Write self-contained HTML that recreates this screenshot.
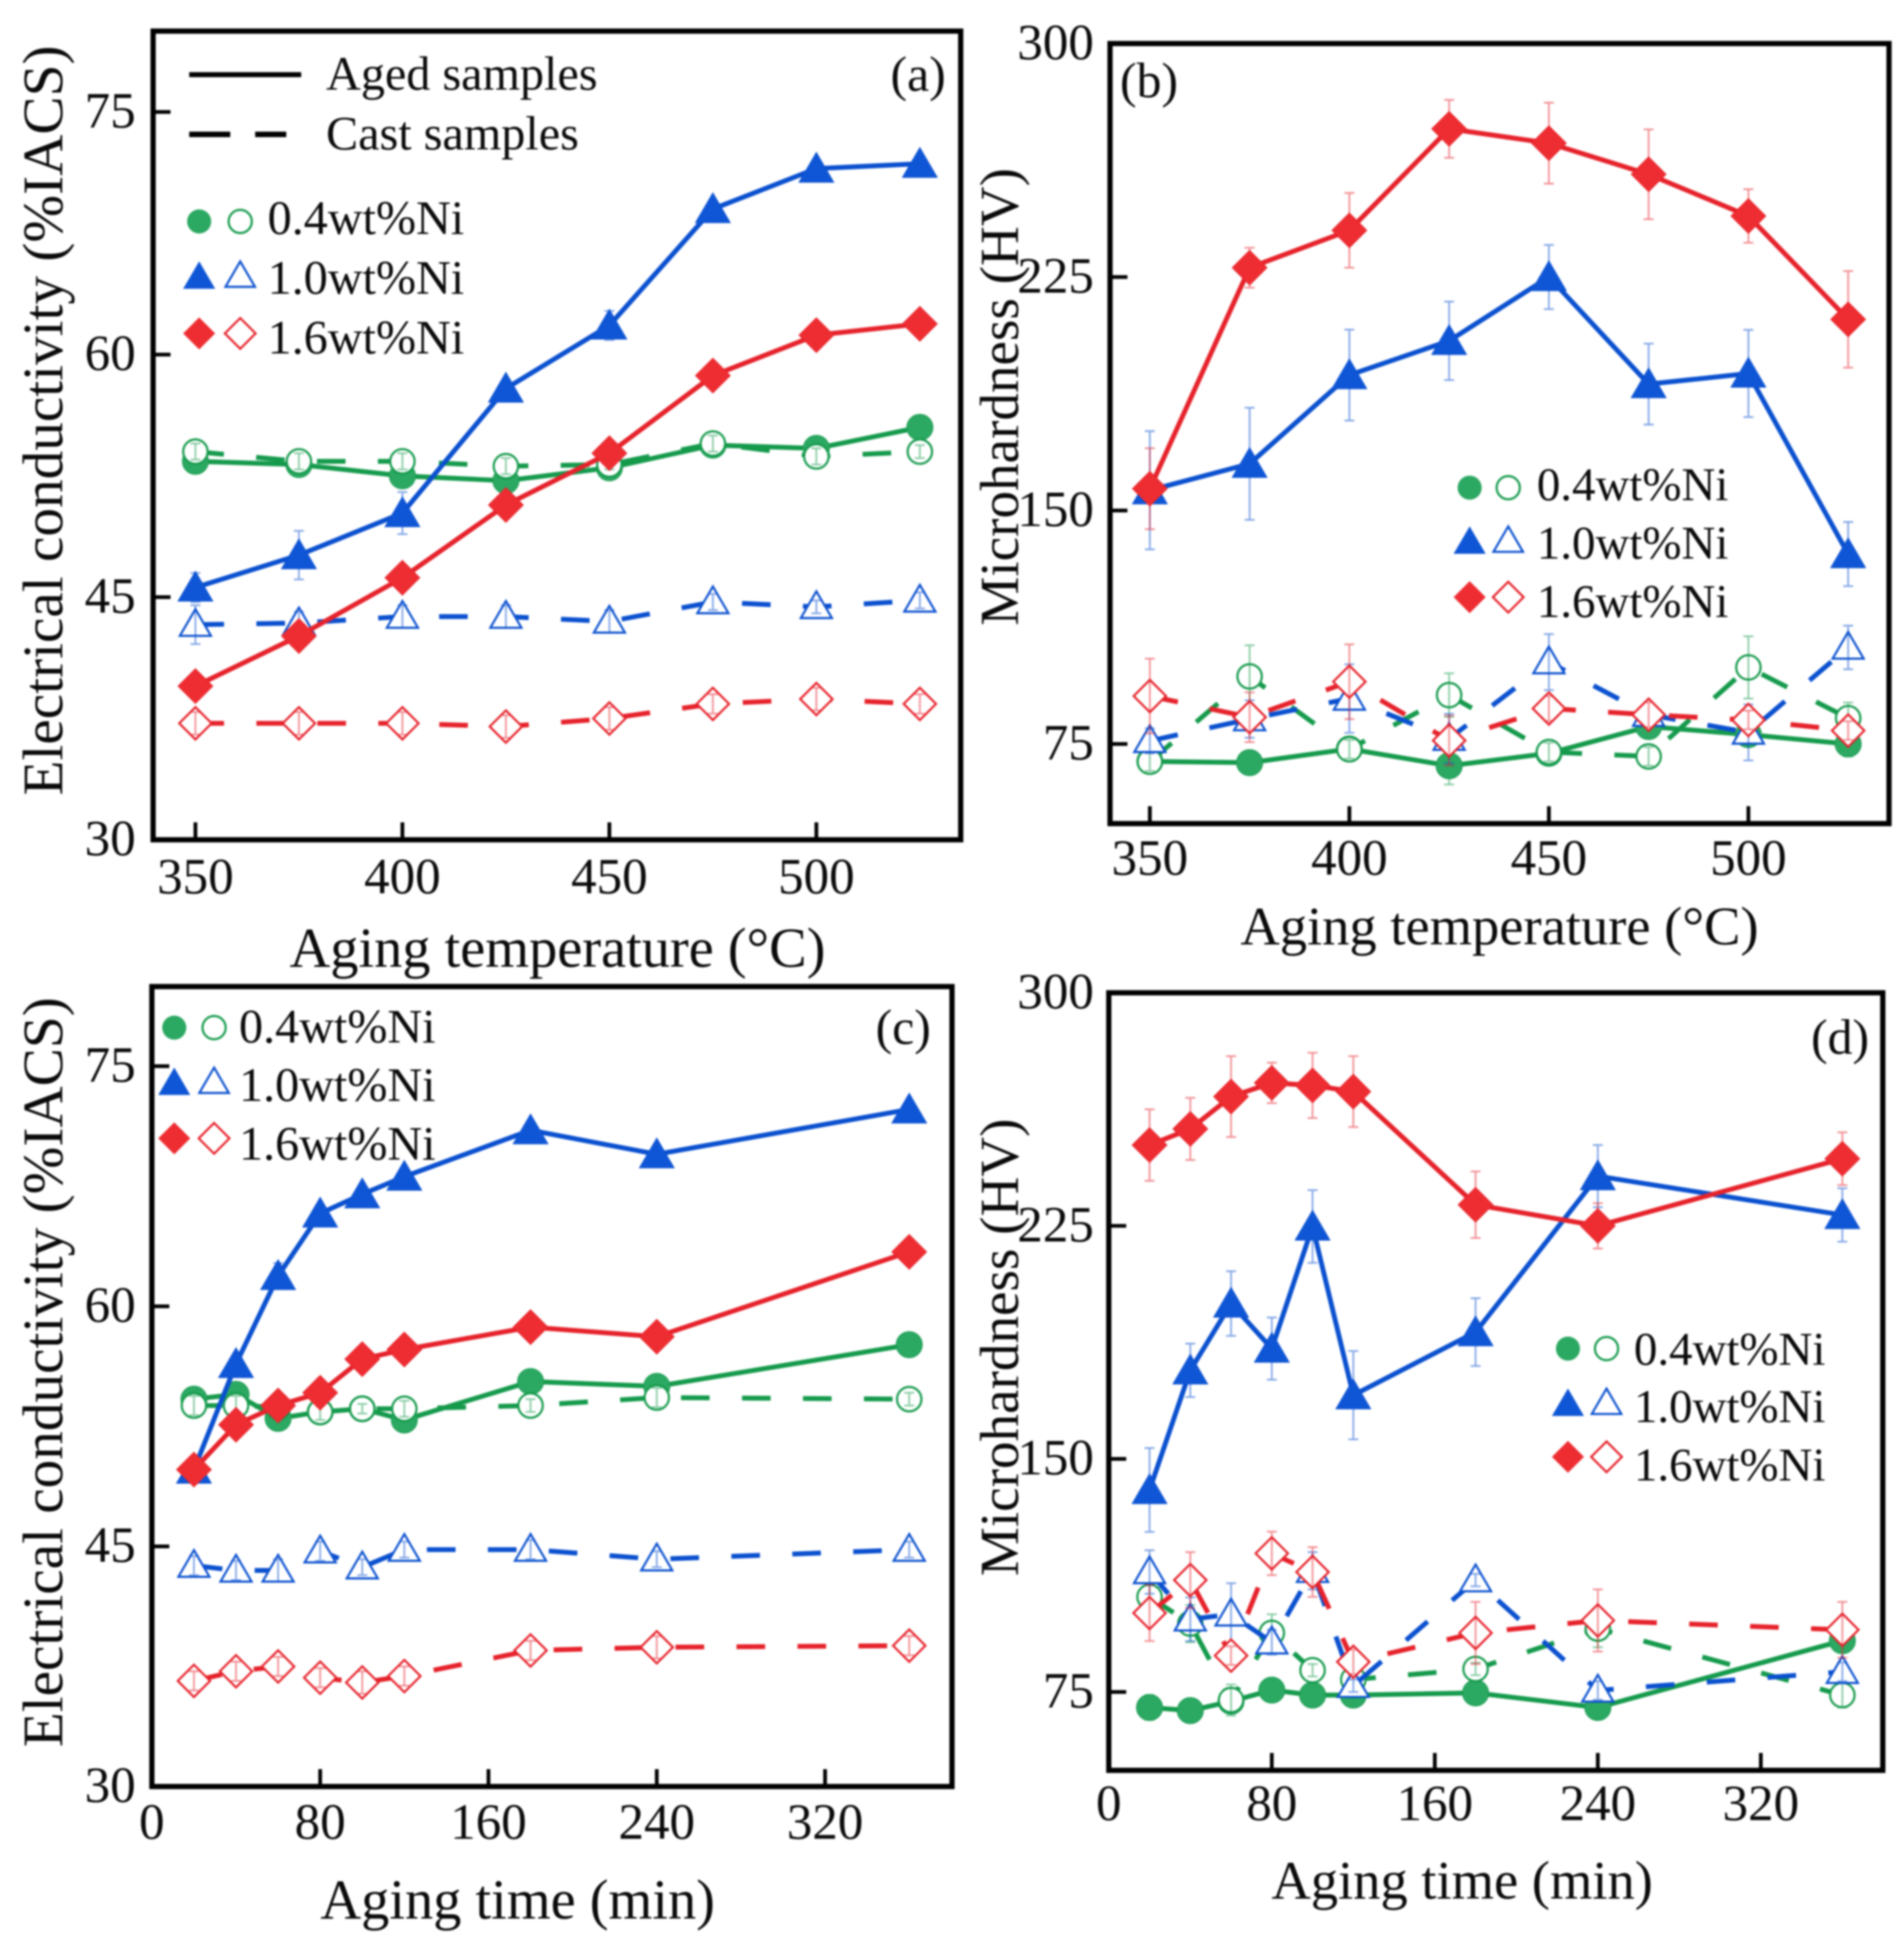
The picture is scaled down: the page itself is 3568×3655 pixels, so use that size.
<!DOCTYPE html>
<html lang="en">
<head>
<meta charset="utf-8">
<title>Conductivity and microhardness vs aging temperature and time</title>
<style>
html,body{margin:0;padding:0;background:#fff;}
svg{display:block;width:3568px;height:3655px;filter:blur(1.9px);}
text{font-family:"Liberation Serif",serif;fill:#0a0a0a;}
.tick{font-size:41px;}
.title{font-size:45.3px;}
.title-right{font-size:43.8px;}
.legend{font-size:38.7px;}
.legend-right{font-size:37.7px;}
.panel-label{font-size:40px;}
</style>
</head>
<body>
<svg id="chart" xmlns="http://www.w3.org/2000/svg" viewBox="0 0 1530 1567.4">
  <rect x="0" y="0" width="1530" height="1567.4" fill="#fff"/>

  <g id="panel-a">
    <text class="title" x="448" y="777" text-anchor="middle">Aging temperature (°C)</text>
    <text class="title" transform="translate(50,338) rotate(-90)" text-anchor="middle" style="font-size:46px">Electrical conductivity (%IACS)</text>
    <text class="panel-label" x="760" y="73" text-anchor="end">(a)</text>
    <line x1="152" y1="60" x2="242" y2="60" stroke="#000" stroke-width="4"/>
    <line x1="152" y1="108" x2="230" y2="108" stroke="#000" stroke-width="4.4" stroke-dasharray="33 20 25 99"/>
    <text class="legend" x="262" y="72">Aged samples</text>
    <text class="legend" x="262" y="120">Cast samples</text>
    <text class="legend" x="215" y="188">0.4wt%Ni</text>
    <text class="legend" x="215" y="236">1.0wt%Ni</text>
    <text class="legend" x="215" y="284">1.6wt%Ni</text>
  </g>

  <g id="panel-b">
    <text class="title-right" x="1205" y="759" text-anchor="middle">Aging temperature (°C)</text>
    <text class="title" transform="translate(818,319) rotate(-90)" text-anchor="middle" style="font-size:44.3px">Microhardness (HV)</text>
    <text class="panel-label" x="900" y="78">(b)</text>
    <text class="legend-right" x="1235" y="402">0.4wt%Ni</text>
    <text class="legend-right" x="1235" y="449">1.0wt%Ni</text>
    <text class="legend-right" x="1235" y="496">1.6wt%Ni</text>
  </g>

  <g id="panel-c">
    <text class="title" x="416" y="1542" text-anchor="middle">Aging time (min)</text>
    <text class="title" transform="translate(50,1103) rotate(-90)" text-anchor="middle" style="font-size:46px">Electrical conductivity (%IACS)</text>
    <text class="panel-label" x="748" y="839" text-anchor="end">(c)</text>
    <text class="legend" x="192" y="838">0.4wt%Ni</text>
    <text class="legend" x="192" y="885">1.0wt%Ni</text>
    <text class="legend" x="192" y="932">1.6wt%Ni</text>
  </g>

  <g id="panel-d">
    <text class="title-right" x="1175" y="1526" text-anchor="middle">Aging time (min)</text>
    <text class="title" transform="translate(818,1083) rotate(-90)" text-anchor="middle" style="font-size:44.3px">Microhardness (HV)</text>
    <text class="panel-label" x="1502" y="847" text-anchor="end">(d)</text>
    <text class="legend-right" x="1313" y="1097">0.4wt%Ni</text>
    <text class="legend-right" x="1313" y="1143">1.0wt%Ni</text>
    <text class="legend-right" x="1313" y="1190">1.6wt%Ni</text>
  </g>
</svg>

<script>
// Categories
const temperatures = [350, 375, 400, 425, 450, 475, 500, 525];
const times = [20, 40, 60, 80, 100, 120, 180, 240, 360];

// Tick labels
const temperatureTicks = [350, 400, 450, 500];
const timeTicks = [0, 80, 160, 240, 320];
const conductivityTicks = [30, 45, 60, 75];
const hardnessTicks = [75, 150, 225, 300];

// Panel (a) conductivity vs temperature
const aAged04 = [53.4, 53.2, 52.5, 52.2, 53.0, 54.4, 54.2, 55.5];
const aCast04 = [54.0, 53.4, 53.4, 53.1, 53.2, 54.5, 53.7, 54.0];
const aAged10 = [45.6, 47.6, 50.2, 57.9, 61.8, 69.0, 71.5, 71.8];
const aCast10 = [43.3, 43.4, 43.8, 43.8, 43.5, 44.7, 44.4, 44.8];
const aAged16 = [39.5, 42.6, 46.2, 50.7, 53.9, 58.7, 61.2, 61.9];
const aCast16 = [37.2, 37.2, 37.2, 37.0, 37.5, 38.4, 38.7, 38.4];
const aAged04Err = [0.4, 0.4, 0.4, 0.3, 0.3, 0.3, 0.3, 0.3];
const aCast04Err = [0.5, 0.5, 0.5, 0.5, 0.3, 0.5, 0.5, 0.4];
const aAged10Err = [0.9, 1.5, 1.3, 0.5, 0.9, 0.3, 0.3, 0.3];
const aCast10Err = [1.2, 0.7, 0.7, 0.7, 0.7, 0.5, 0.4, 0.5];
const aAged16Err = [0.3, 0.3, 0.4, 0.6, 0.3, 0.3, 0.3, 0.3];
const aCast16Err = [0.7, 0.7, 0.7, 0.7, 0.7, 0.6, 0.7, 0.6];

// Panel (b) hardness vs temperature
const bAged04 = [69.4, 69, 73.4, 68, 72, 80.6, 78, 75];
const bCast04 = [69.3, 96.7, 73.3, 90.7, 72.4, 71, 99.6, 83.3];
const bAged10 = [156.5, 165, 193.5, 204.5, 225, 190.6, 194, 136];
const bCast10 = [76, 83, 89.6, 76.7, 101.3, 84.4, 78.7, 106];
const bAged16 = [157, 228, 240, 272.6, 268, 258, 244.6, 211.4];
const bCast16 = [90.4, 83.6, 95, 76.1, 86.4, 84.4, 82.7, 79.3];
const bAged04Err = [3, 2, 3, 6, 3, 3, 3, 4];
const bCast04Err = [3, 10, 3, 7, 3, 3, 10, 5];
const bAged10Err = [19, 18, 14.6, 12.6, 10.3, 13, 14, 10.3];
const bCast10Err = [4, 6, 11, 8, 9, 3, 9, 7];
const bAged16Err = [13, 6.4, 12, 9.3, 13, 14.4, 8.6, 15.5];
const bCast16Err = [12, 8, 12, 8, 4, 4, 3, 3];

// Panel (c) conductivity vs time
const cAged04 = [54.2, 54.5, 53.0, 53.4, 53.6, 52.9, 55.3, 55.0, 57.6];
const cCast04 = [53.8, 53.8, 53.7, 53.4, 53.6, 53.6, 53.8, 54.3, 54.2];
const cAged10 = [49.8, 56.4, 61.9, 65.8, 67, 68.1, 71, 69.5, 72.3];
const cCast10 = [43.8, 43.5, 43.5, 44.7, 43.7, 44.8, 44.8, 44.2, 44.8];
const cAged16 = [49.8, 52.6, 53.8, 54.6, 56.7, 57.3, 58.7, 58.1, 63.4];
const cCast16 = [36.6, 37.2, 37.5, 36.8, 36.5, 36.9, 38.5, 38.7, 38.8];
const cAged04Err = [0.4, 0.4, 0.4, 0.3, 0.3, 0.3, 0.3, 0.3, 0.3];
const cCast04Err = [0.6, 0.6, 0.5, 0.5, 0.3, 0.5, 0.4, 0.6, 0.4];
const cAged10Err = [0.3, 0.3, 0.8, 0.3, 0.3, 0.3, 0.3, 0.3, 0.3];
const cCast10Err = [0.6, 0.6, 0.7, 0.6, 0.5, 0.5, 0.6, 0.5, 0.5];
const cAged16Err = [0.3, 0.3, 0.3, 0.3, 0.3, 0.3, 0.3, 0.3, 0.3];
const cCast16Err = [0.6, 0.6, 0.6, 0.6, 0.7, 0.6, 0.6, 0.7, 0.6];

// Panel (d) hardness vs time
const dAged04 = [70, 69, 72, 75.6, 74, 74, 74.7, 70, 91.5];
const dCast04 = [105.6, 97, 72.4, 94, 82, 79, 82.4, 95.4, 74];
const dAged10 = [140, 178.5, 200, 185.5, 224.8, 170.5, 190.8, 241, 228.5];
const dCast10 = [113.6, 98.4, 100, 91, 114, 77, 111, 75.5, 81.5];
const dAged16 = [251, 256.2, 266.6, 271, 270.2, 268.2, 231.8, 225, 246.6];
const dCast16 = [100.4, 111, 86.7, 119.6, 113.6, 84.7, 94, 98, 95];
const dAged04Err = [4, 2, 2, 2, 2, 2, 2, 3, 2];
const dCast04Err = [8, 6, 5, 6, 2, 6, 2, 6, 4];
const dAged10Err = [13.5, 8.6, 10.4, 10, 11.7, 14.2, 10.9, 10, 8.6];
const dCast10Err = [7, 7, 10, 4, 6, 2, 2, 3, 3];
const dAged16Err = [11.5, 10, 13, 6.5, 10.5, 11.4, 10.7, 7.3, 8.5];
const dCast16Err = [9, 9, 3, 7, 8, 4, 10, 10, 9];

const SVGNS = 'http://www.w3.org/2000/svg';
const GREEN = '#159a4c', GREEN_FILL = '#2ba862';
const BLUE = '#0a50cf', BLUE_LIGHT = '#0f56d6';
const RED = '#e6222b', RED_FILL = '#ee2d32';

function scale(d0, d1, r0, r1) {
  return function (v) { return r0 + (v - d0) * (r1 - r0) / (d1 - d0); };
}

function shapeElement(kind, cx, cy, filled) {
  let el;
  if (kind === 'circle') {
    el = document.createElementNS(SVGNS, 'circle');
    el.setAttribute('cx', cx);
    el.setAttribute('cy', cy);
    el.setAttribute('r', filled ? 10.5 : 9.8);
  } else {
    el = document.createElementNS(SVGNS, 'polygon');
    let pts;
    if (kind === 'triangle') {
      const w = filled ? 14 : 12.5, up = filled ? 13 : 12.5, dn = filled ? 11 : 9;
      pts = [[cx, cy - up], [cx + w, cy + dn], [cx - w, cy + dn]];
    } else {
      const r = filled ? 14 : 13;
      pts = [[cx, cy - r], [cx + r, cy], [cx, cy + r], [cx - r, cy]];
    }
    el.setAttribute('points', pts.map(function (p) { return p[0] + ',' + p[1]; }).join(' '));
  }
  return el;
}

function drawSeries(group, panel, key, xs, ys, errs, sx, sy, kind, color, fill, cast) {
  const path = xs.map(function (x, i) { return sx(x) + ',' + sy(ys[i]); }).join(' ');
  const line = document.createElementNS(SVGNS, 'polyline');
  
  
  line.setAttribute('points', path);
  line.setAttribute('fill', 'none');
  line.setAttribute('stroke', color);
  line.setAttribute('stroke-width', cast ? 3.9 : 3.9);
  if (cast) line.setAttribute('stroke-dasharray', '23 26');
  group.appendChild(line);

  function bars() {
    xs.forEach(function (x, i) {
      const bar = document.createElementNS(SVGNS, 'path');
      
      
      const px = sx(x), hi = sy(ys[i] + errs[i]), lo = sy(ys[i] - errs[i]);
      bar.setAttribute('d', 'M' + px + ' ' + hi + 'V' + lo + 'M' + (px - 4) + ' ' + hi + 'H' + (px + 4) + 'M' + (px - 4) + ' ' + lo + 'H' + (px + 4));
      bar.setAttribute('fill', 'none');
      bar.setAttribute('stroke', color);
      bar.setAttribute('stroke-width', 1.4);
      bar.setAttribute('stroke-opacity', 0.5);
      group.appendChild(bar);
    });
  }
  if (!cast) bars();

  xs.forEach(function (x, i) {
    const mark = shapeElement(kind, sx(x), sy(ys[i]), !cast);
    
    
    mark.setAttribute('fill', cast ? '#fff' : fill);
    mark.setAttribute('stroke', color);
    mark.setAttribute('stroke-width', cast ? 1.7 : 0.6);
    group.appendChild(mark);
  });
  if (cast) bars();
}

function drawAxes(group, panel, box, sx, sy, xTicks, yTicks, yLabelX, xLabelY) {
  const frame = document.createElementNS(SVGNS, 'rect');
  
  
  frame.setAttribute('x', box.l);
  frame.setAttribute('y', box.t);
  frame.setAttribute('width', box.r - box.l);
  frame.setAttribute('height', box.b - box.t);
  frame.setAttribute('fill', 'none');
  frame.setAttribute('stroke', '#000');
  frame.setAttribute('stroke-width', 4.2);
  group.appendChild(frame);

  xTicks.forEach(function (t) {
    const tick = document.createElementNS(SVGNS, 'line');
    
    
    tick.setAttribute('x1', sx(t));
    tick.setAttribute('x2', sx(t));
    tick.setAttribute('y1', box.b);
    tick.setAttribute('y2', box.b - 14);
    tick.setAttribute('stroke', '#000');
    tick.setAttribute('stroke-width', 3);
    group.appendChild(tick);

    const label = document.createElementNS(SVGNS, 'text');
    
    
    label.setAttribute('class', 'tick');
    label.setAttribute('x', sx(t));
    label.setAttribute('y', xLabelY);
    label.setAttribute('text-anchor', 'middle');
    label.textContent = t;
    group.appendChild(label);
  });

  yTicks.forEach(function (t) {
    const tick = document.createElementNS(SVGNS, 'line');
    
    
    tick.setAttribute('x1', box.l);
    tick.setAttribute('x2', box.l + 14);
    tick.setAttribute('y1', sy(t));
    tick.setAttribute('y2', sy(t));
    tick.setAttribute('stroke', '#000');
    tick.setAttribute('stroke-width', 3);
    group.appendChild(tick);

    const label = document.createElementNS(SVGNS, 'text');
    
    
    label.setAttribute('class', 'tick');
    label.setAttribute('x', yLabelX);
    label.setAttribute('y', sy(t) + 12.5);
    label.setAttribute('text-anchor', 'end');
    label.textContent = t;
    group.appendChild(label);
  });
}

function drawLegendMarks(group, panel, x1, x2, y04, y10, y16) {
  [['circle', y04, GREEN, GREEN_FILL], ['triangle', y10, BLUE, BLUE_LIGHT], ['diamond', y16, RED, RED_FILL]].forEach(function (row) {
    const solid = shapeElement(row[0], x1, row[1], true);
    
    
    solid.setAttribute('fill', row[3]);
    solid.setAttribute('transform', 'translate(' + x1 + ' ' + row[1] + ') scale(0.92) translate(' + (-x1) + ' ' + (-row[1]) + ')');
    group.appendChild(solid);

    const open = shapeElement(row[0], x2, row[1], false);
    
    
    open.setAttribute('fill', '#fff');
    open.setAttribute('stroke', row[2]);
    open.setAttribute('stroke-width', 1.8);
    open.setAttribute('transform', 'translate(' + x2 + ' ' + row[1] + ') scale(0.95) translate(' + (-x2) + ' ' + (-row[1]) + ')');
    group.appendChild(open);
  });
}

function drawPanel(panel, box, sx, sy, xs, xTicks, yTicks, yLabelX, xLabelY, d) {
  const group = document.getElementById('panel-' + panel);
  drawSeries(group, panel, 'aged-0.4ni', xs, d[0], d[6], sx, sy, 'circle', GREEN, GREEN_FILL, false);
  drawSeries(group, panel, 'cast-0.4ni', xs, d[1], d[7], sx, sy, 'circle', GREEN, GREEN_FILL, true);
  drawSeries(group, panel, 'aged-1.0ni', xs, d[2], d[8], sx, sy, 'triangle', BLUE, BLUE_LIGHT, false);
  drawSeries(group, panel, 'cast-1.0ni', xs, d[3], d[9], sx, sy, 'triangle', BLUE, BLUE_LIGHT, true);
  drawSeries(group, panel, 'aged-1.6ni', xs, d[4], d[10], sx, sy, 'diamond', RED, RED_FILL, false);
  drawSeries(group, panel, 'cast-1.6ni', xs, d[5], d[11], sx, sy, 'diamond', RED, RED_FILL, true);
  drawAxes(group, panel, box, sx, sy, xTicks, yTicks, yLabelX, xLabelY);
}

drawPanel('a', {l: 123, r: 772, t: 25, b: 675}, scale(350, 500, 157, 656), scale(30, 75, 675, 90),
  temperatures, temperatureTicks, conductivityTicks, 109, 718,
  [aAged04, aCast04, aAged10, aCast10, aAged16, aCast16, aAged04Err, aCast04Err, aAged10Err, aCast10Err, aAged16Err, aCast16Err]);
drawLegendMarks(document.getElementById('panel-a'), 'a', 160, 193, 178, 222, 268);

drawPanel('b', {l: 892, r: 1518, t: 35, b: 662}, scale(350, 500, 924, 1405), scale(75, 300, 598, 35),
  temperatures, temperatureTicks, hardnessTicks, 879, 703,
  [bAged04, bCast04, bAged10, bCast10, bAged16, bCast16, bAged04Err, bCast04Err, bAged10Err, bCast10Err, bAged16Err, bCast16Err]);
drawLegendMarks(document.getElementById('panel-b'), 'b', 1181, 1212, 392, 435, 480);

drawPanel('c', {l: 122, r: 765, t: 793, b: 1436}, scale(0, 320, 122, 663), scale(30, 75, 1436, 857),
  times, timeTicks, conductivityTicks, 109, 1478,
  [cAged04, cCast04, cAged10, cCast10, cAged16, cCast16, cAged04Err, cCast04Err, cAged10Err, cCast10Err, cAged16Err, cCast16Err]);
drawLegendMarks(document.getElementById('panel-c'), 'c', 140, 172, 826, 870, 915);

drawPanel('d', {l: 891, r: 1513, t: 798, b: 1423}, scale(0, 320, 891, 1415), scale(75, 300, 1360, 798),
  times, timeTicks, hardnessTicks, 879, 1463,
  [dAged04, dCast04, dAged10, dCast10, dAged16, dCast16, dAged04Err, dCast04Err, dAged10Err, dCast10Err, dAged16Err, dCast16Err]);
drawLegendMarks(document.getElementById('panel-d'), 'd', 1260, 1291, 1084, 1128, 1171);
</script>
</body>
</html>
